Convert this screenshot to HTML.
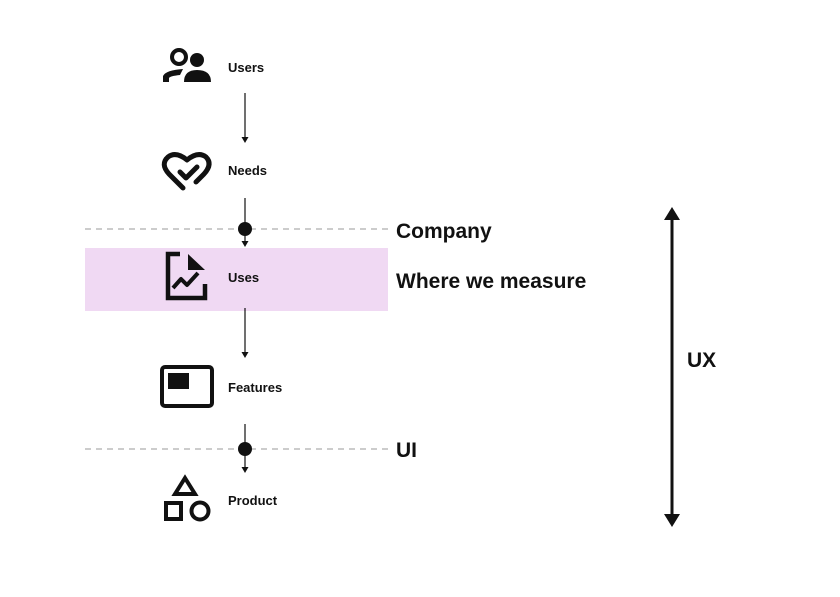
<!DOCTYPE html>
<html><head><meta charset="utf-8"><style>
html,body{margin:0;padding:0;background:#fff;}
svg{display:block;}
text{font-family:"Liberation Sans",sans-serif;font-weight:bold;fill:#111;}
</style></head><body>
<svg width="840" height="597" viewBox="0 0 840 597" xmlns="http://www.w3.org/2000/svg">
<rect x="85" y="248" width="303" height="63" fill="#f0d9f3"/>
<line x1="85" y1="229" x2="388" y2="229" stroke="#999" stroke-width="1" stroke-dasharray="6,5"/>
<line x1="85" y1="449" x2="388" y2="449" stroke="#999" stroke-width="1" stroke-dasharray="6,5"/>
<g stroke="#111" stroke-width="1.2">
<line x1="245" y1="93" x2="245" y2="138"/>
<line x1="245" y1="198" x2="245" y2="242"/>
<line x1="245" y1="308" x2="245" y2="353"/>
<line x1="245" y1="424" x2="245" y2="468"/>
</g>
<g fill="#111">
<polygon points="241.5,137 248.5,137 245,143"/>
<polygon points="241.5,241 248.5,241 245,247"/>
<polygon points="241.5,352 248.5,352 245,358"/>
<polygon points="241.5,467 248.5,467 245,473"/>
<circle cx="245" cy="229" r="7"/>
<circle cx="245" cy="449" r="7"/>
</g>
<g fill="#111">
<circle cx="179" cy="57" r="7" fill="none" stroke="#111" stroke-width="4"/>
<circle cx="197" cy="60" r="7"/>
<path d="M163,82 L163,76 Q166,70 183,69 L180,75 Q170,76 169,78 L169,82 Z"/>
<path d="M184,82 Q184,70 197,70 Q211,70 211,82 Z"/>
</g>
<g fill="none" stroke="#111" stroke-width="5" stroke-linecap="round" stroke-linejoin="round">
<path d="M183,188 L169,174 Q160,164 168,157 Q176,151 187,160 Q198,151 206,157 Q213,164 204,174 L196,182"/>
<path d="M180,172 L186,178 L197,167"/>
</g>
<g fill="none" stroke="#111" stroke-width="4.5">
<path d="M180,254 L168,254 L168,298 L205,298 L205,284"/>
<path d="M173,288 L181,279 L187,285 L198,273" stroke-width="4" stroke-linejoin="round"/>
</g>
<polygon points="188,254 205,270 188,270" fill="#111"/>
<rect x="162" y="367" width="50" height="39" rx="3" fill="none" stroke="#111" stroke-width="4"/>
<rect x="168" y="373" width="21" height="16" fill="#111"/>
<polygon points="185,478 195,494 175,494" fill="none" stroke="#111" stroke-width="4" stroke-linejoin="miter"/>
<rect x="166" y="503" width="15" height="16" fill="none" stroke="#111" stroke-width="4"/>
<circle cx="200" cy="511" r="8.5" fill="none" stroke="#111" stroke-width="4"/>
<g font-size="13">
<text x="228" y="72">Users</text>
<text x="228" y="175">Needs</text>
<text x="228" y="282">Uses</text>
<text x="228" y="392">Features</text>
<text x="228" y="505">Product</text>
</g>
<g font-size="21">
<text x="396" y="238">Company</text>
<text x="396" y="288">Where we measure</text>
<text x="396" y="457">UI</text>
<text x="687" y="367">UX</text>
</g>
<line x1="672" y1="215" x2="672" y2="519" stroke="#111" stroke-width="3"/>
<polygon points="664,220 680,220 672,207" fill="#111"/>
<polygon points="664,514 680,514 672,527" fill="#111"/>
</svg>
</body></html>
